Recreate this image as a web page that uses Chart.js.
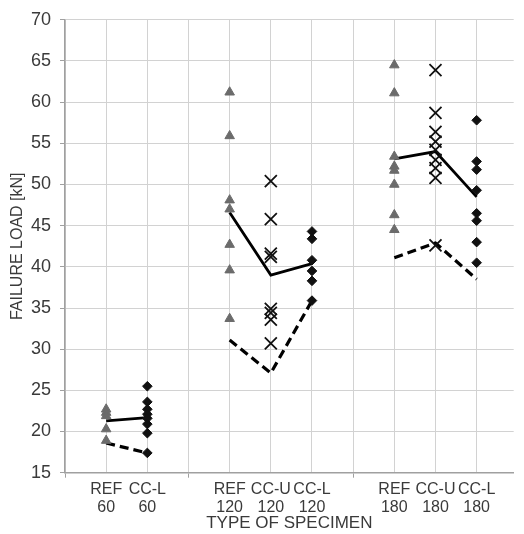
<!DOCTYPE html>
<html>
<head>
<meta charset="utf-8">
<script src="https://cdn.jsdelivr.net/npm/chart.js@4"></script>
<style>
  html, body { margin: 0; padding: 0; background: #fff; }
  #wrap { width: 524px; height: 534px; position: relative; }
</style>
</head>
<body>
<div id="wrap"><canvas id="c"></canvas></div>
<script>
// Categories along the x axis (blank = spacer between groups)
const categories = ['REF 60', 'CC-L 60', '', 'REF 120', 'CC-U 120', 'CC-L 120', '', 'REF 180', 'CC-U 180', 'CC-L 180'];

// Individual failure loads [kN]
const ref60  = [22.7, 22.3, 21.9, 20.3, 18.9];
const ccl60  = [25.5, 23.6, 22.7, 22.1, 21.6, 20.9, 19.8, 17.4];
const ref120 = [61.2, 55.9, 48.1, 47.0, 42.7, 39.6, 33.7];
const ccu120 = [50.4, 45.8, 41.6, 41.2, 34.9, 34.4, 33.6, 30.7];
const ccl120 = [44.3, 43.4, 40.8, 39.5, 38.3, 35.9];
const ref180 = [64.5, 61.1, 53.4, 52.2, 51.7, 50.0, 46.3, 44.5];
const ccu180 = [63.9, 58.7, 56.4, 55.2, 54.2, 53.0, 52.0, 50.8, 42.6];
const ccl180 = [57.8, 52.8, 51.8, 49.3, 46.5, 45.6, 43.0, 40.5];

// Mean (solid) and characteristic (dashed) values per category
const meanLoad = [21.3, 21.7, null, 46.6, 39.0, 40.4, null, 53.1, 54.0, 48.5];
const charLoad = [18.6, 17.4, null, 31.1, 27.1, 35.9, null, 41.1, 42.9, 38.5];

const posOf = name => categories.indexOf(name) + 1;
const pts = (name, arr) => arr.map(v => ({ x: posOf(name), y: v }));
const linePts = arr => arr.map((v, i) => ({ x: i + 1, y: v }));

const TEXT = '#3a3a3a';
const GRID = '#d2d2d2';
const AXIS = '#a0a0a0';
const FONT = 'Liberation Sans, Arial, sans-serif';

const triStyle = { pointStyle: 'triangle', pointRadius: 5.5, backgroundColor: '#6b6b6b', borderColor: '#6b6b6b', borderWidth: 1, showLine: false };
const xStyle = { pointStyle: 'crossRot', pointRadius: 8.5, backgroundColor: '#111', borderColor: '#111', borderWidth: 1.8, showLine: false };
const diaStyle = { pointStyle: 'rectRot', pointRadius: 4.8, backgroundColor: '#111', borderColor: '#111', borderWidth: 1, showLine: false };

const datasets = [
  Object.assign({ label: 'REF 60', data: pts('REF 60', ref60) }, triStyle),
  Object.assign({ label: 'REF 120', data: pts('REF 120', ref120) }, triStyle),
  Object.assign({ label: 'REF 180', data: pts('REF 180', ref180) }, triStyle),
  Object.assign({ label: 'CC-U 120', data: pts('CC-U 120', ccu120) }, xStyle),
  Object.assign({ label: 'CC-U 180', data: pts('CC-U 180', ccu180) }, xStyle),
  Object.assign({ label: 'CC-L 60', data: pts('CC-L 60', ccl60) }, diaStyle),
  Object.assign({ label: 'CC-L 120', data: pts('CC-L 120', ccl120) }, diaStyle),
  Object.assign({ label: 'CC-L 180', data: pts('CC-L 180', ccl180) }, diaStyle),
  { label: 'Mean', data: linePts(meanLoad), showLine: true, spanGaps: false, pointRadius: 0, borderColor: '#000', borderWidth: 2.8, fill: false },
  { label: 'Characteristic', data: linePts(charLoad), showLine: true, spanGaps: false, pointRadius: 0, borderColor: '#000', borderWidth: 3.2, borderDash: [9, 5], fill: false }
];

const tickMarks = [0, 3, 7];

new Chart(document.getElementById('c'), {
  type: 'scatter',
  data: { datasets },
  options: {
    responsive: true,
    maintainAspectRatio: false,
    animation: false,
    layout: { padding: { top: 19, right: 0, bottom: 0, left: 0 } },
    plugins: { legend: { display: false }, tooltip: { enabled: false } },
    scales: {
      x: {
        type: 'linear',
        min: 0,
        max: 10.9,
        afterFit: s => { s.height = 61.3; },
        ticks: {
          stepSize: 1,
          includeBounds: false,
          autoSkip: false,
          maxRotation: 0,
          padding: 3,
          color: TEXT,
          font: { family: FONT, size: 16, lineHeight: 1.1 },
          callback: v => {
            const name = categories[v - 1];
            return name ? name.split(' ') : '';
          }
        },
        grid: {
          color: GRID,
          lineWidth: 1,
          tickLength: 5,
          tickColor: ctx => (ctx.tick && tickMarks.includes(ctx.tick.value)) ? AXIS : 'rgba(0,0,0,0)'
        },
        border: { color: AXIS, width: 1.5 },
        title: {
          display: true,
          text: 'TYPE OF SPECIMEN',
          color: TEXT,
          font: { family: FONT, size: 17, lineHeight: 1.2 },
          padding: { top: 0, bottom: 0 }
        }
      },
      y: {
        type: 'linear',
        min: 15,
        max: 70,
        afterFit: s => { s.width = 65; },
        ticks: {
          stepSize: 5,
          padding: 9,
          color: TEXT,
          font: { family: FONT, size: 18 }
        },
        grid: { color: GRID, lineWidth: 1, tickLength: 5, tickColor: AXIS },
        border: { color: AXIS, width: 1.5 },
        title: {
          display: true,
          text: 'FAILURE LOAD [kN]',
          color: TEXT,
          font: { family: FONT, size: 16, lineHeight: 1.2 },
          padding: { top: 8, bottom: 0 }
        }
      }
    }
  }
});
</script>
</body>
</html>
